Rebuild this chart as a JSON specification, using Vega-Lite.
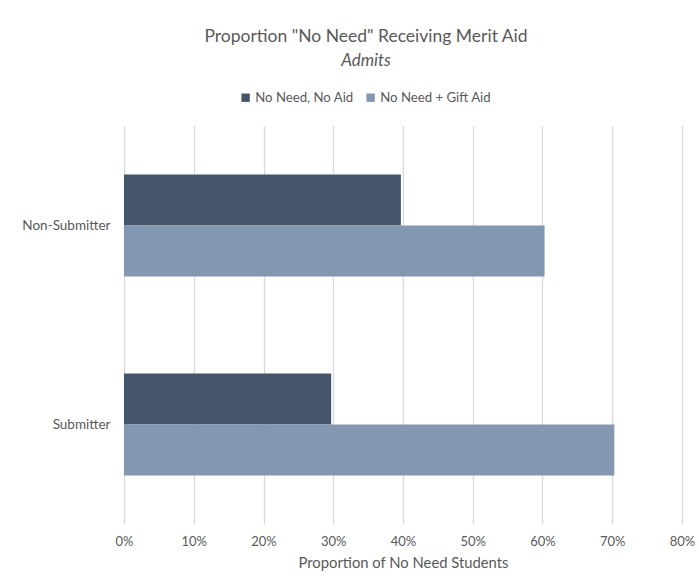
{
  "$schema": "https://vega.github.io/schema/vega-lite/v6.json",
  "width": 558,
  "height": 398,
  "autosize": "none",
  "padding": {"left": 124, "top": 126, "right": 17, "bottom": 63},
  "background": "white",
  "title": {
    "text": "Proportion \"No Need\" Receiving Merit Aid",
    "subtitle": "Admits",
    "anchor": "middle",
    "frame": "group",
    "dx": -37,
    "offset": 22,
    "font": "Lato",
    "fontSize": 17.5,
    "fontWeight": "normal",
    "color": "#595959",
    "subtitleFont": "Lato",
    "subtitleFontSize": 17,
    "subtitleFontStyle": "italic",
    "subtitleColor": "#595959",
    "subtitlePadding": 8
  },
  "data": {
    "values": [
      {"group": "Non-Submitter", "series": "No Need, No Aid", "value": 0.397},
      {"group": "Non-Submitter", "series": "No Need + Gift Aid", "value": 0.603},
      {"group": "Submitter", "series": "No Need, No Aid", "value": 0.297},
      {"group": "Submitter", "series": "No Need + Gift Aid", "value": 0.703}
    ]
  },
  "mark": {"type": "bar"},
  "encoding": {
    "y": {
      "field": "group",
      "type": "nominal",
      "sort": ["Non-Submitter", "Submitter"],
      "scale": {"paddingInner": 0.487, "paddingOuter": 0.2435},
      "axis": {"title": null, "domain": false, "ticks": false, "labelPadding": 14, "labelFont": "Lato", "labelFontSize": 13.5, "labelColor": "#595959"}
    },
    "yOffset": {
      "field": "series",
      "type": "nominal",
      "sort": ["No Need, No Aid", "No Need + Gift Aid"],
      "scale": {"paddingInner": 0, "paddingOuter": 0}
    },
    "x": {
      "field": "value",
      "type": "quantitative",
      "scale": {"domain": [0, 0.8], "nice": false},
      "axis": {
        "format": ".0%",
        "values": [0, 0.1, 0.2, 0.3, 0.4, 0.5, 0.6, 0.7, 0.8],
        "labelOverlap": false,
        "labelFlush": false,
        "title": "Proportion of No Need Students",
        "titleFont": "Lato",
        "titleFontSize": 14.8,
        "titleFontWeight": "normal",
        "titleColor": "#595959",
        "titlePadding": 7,
        "domain": false,
        "ticks": false,
        "grid": true,
        "gridColor": "#D9D9D9",
        "gridWidth": 1.3,
        "labelPadding": 11,
        "labelFont": "Lato",
        "labelFontSize": 13,
        "labelColor": "#595959"
      }
    },
    "color": {
      "field": "series",
      "type": "nominal",
      "sort": ["No Need, No Aid", "No Need + Gift Aid"],
      "scale": {"domain": ["No Need, No Aid", "No Need + Gift Aid"], "range": ["#44546A", "#8497B0"]},
      "legend": {
        "title": null,
        "orient": "none",
        "direction": "horizontal",
        "legendX": 115,
        "legendY": -35,
        "symbolType": "square",
        "symbolSize": 70,
        "symbolStrokeWidth": 0,
        "labelFont": "Lato",
        "labelFontSize": 13.2,
        "labelColor": "#595959",
        "labelOffset": 3,
        "columnPadding": 10
      }
    }
  },
  "config": {"view": {"stroke": null}}
}
